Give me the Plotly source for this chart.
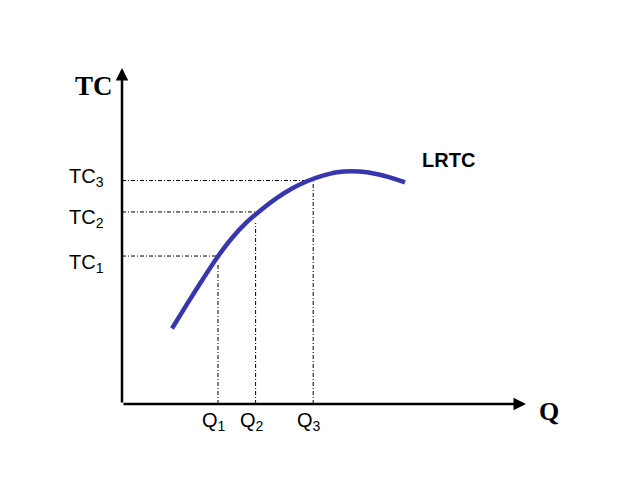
import plotly.graph_objects as go

# LRTC curve (Q, TC) in chart units
curve_q = [12.5, 16.25, 20.0, 23.75, 27.5, 31.25, 35.0, 38.75, 42.5, 46.25,
           50.0, 53.75, 57.5, 61.25, 65.0, 68.75, 70.75]
curve_tc = [22.6, 29.9, 37.0, 43.8, 49.7, 54.5, 58.3, 61.7, 64.5, 66.7,
            68.3, 69.4, 69.7, 69.4, 68.5, 67.2, 66.35]

# reference levels
q_labels = ["Q<sub>1</sub>", "Q<sub>2</sub>", "Q<sub>3</sub>"]
q_values = [24.0, 33.4, 47.8]
q_line_tops = [42.2, 54.2, 66.6]

tc_labels = ["TC<sub>1</sub>", "TC<sub>2</sub>", "TC<sub>3</sub>"]
tc_values = [44.3, 57.5, 66.9]
tc_line_ends = [24.0, 33.5, 47.8]

fig = go.Figure()

# dashed guide lines
dash = "4px,2px,1px,2px"
for q, top in zip(q_values, q_line_tops):
    fig.add_trace(go.Scatter(x=[q, q], y=[0, top], mode="lines",
                             line=dict(color="black", width=1, dash=dash),
                             hoverinfo="skip", showlegend=False))
for tc, end in zip(tc_values, tc_line_ends):
    fig.add_trace(go.Scatter(x=[0, end], y=[tc, tc], mode="lines",
                             line=dict(color="black", width=1, dash=dash),
                             hoverinfo="skip", showlegend=False))

# LRTC curve
fig.add_trace(go.Scatter(x=curve_q, y=curve_tc, mode="lines",
                         line=dict(color="#3737AD", width=4.5, shape="spline", smoothing=0.6),
                         showlegend=False))

annotations = []
# axes with arrows
annotations.append(dict(x=0, y=100.6, ax=0, ay=0, xref="x", yref="y", axref="x", ayref="y",
                        showarrow=True, arrowhead=2, arrowsize=1, arrowwidth=2.5,
                        arrowcolor="black", text=""))
annotations.append(dict(x=101, y=0, ax=0, ay=0, xref="x", yref="y", axref="x", ayref="y",
                        showarrow=True, arrowhead=2, arrowsize=1, arrowwidth=2.5,
                        arrowcolor="black", text=""))

label_font = dict(family="Liberation Sans, Arial", size=20, color="black")
tc_shift = [-7, -7, 3]
for lab, tc, s in zip(tc_labels, tc_values, tc_shift):
    annotations.append(dict(x=0, y=tc, xref="x", yref="y", text=lab, showarrow=False,
                            xanchor="right", yanchor="middle", xshift=-16, yshift=s,
                            font=label_font))
for lab, q in zip(q_labels, q_values):
    annotations.append(dict(x=q, y=0, xref="x", yref="y", text=lab, showarrow=False,
                            xanchor="center", yanchor="top", xshift=-4, yshift=-3,
                            font=label_font))

serif = "Liberation Serif, Times New Roman, serif"
annotations.append(dict(x=-0.07, y=0.951, xref="paper", yref="paper", text="<b>TC</b>",
                        showarrow=False, xanchor="center", yanchor="middle",
                        font=dict(family=serif, size=27, color="black")))
annotations.append(dict(x=1.0675, y=-0.023, xref="paper", yref="paper", text="<b>Q</b>",
                        showarrow=False, xanchor="center", yanchor="middle",
                        font=dict(family=serif, size=26, color="black")))
annotations.append(dict(x=0.815, y=0.731, xref="paper", yref="paper", text="<b>LRTC</b>",
                        showarrow=False, xanchor="center", yanchor="middle",
                        font=dict(family="Liberation Sans, Arial", size=20, color="black")))

fig.update_layout(
    width=622, height=463,
    margin=dict(l=114, r=108, t=62, b=67),
    paper_bgcolor="white", plot_bgcolor="white",
    xaxis=dict(range=[0, 100], visible=False, fixedrange=True),
    yaxis=dict(range=[0, 100], visible=False, fixedrange=True),
    annotations=annotations,
    showlegend=False,
)

fig.write_html("out.html", config={"displayModeBar": False})
